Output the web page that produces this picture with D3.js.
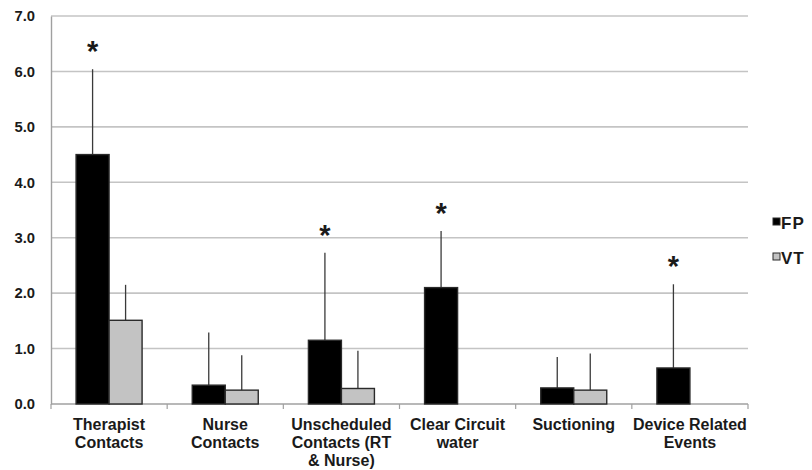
<!DOCTYPE html>
<html>
<head>
<meta charset="utf-8">
<script src="https://cdn.jsdelivr.net/npm/d3@7"></script>
<style>
  html, body { margin: 0; padding: 0; background: #fff; }
  svg { display: block; }
  text { font-family: "Liberation Sans", Arial, sans-serif; font-weight: bold; fill: #1a1a1a; }
</style>
</head>
<body>
<svg id="chart" width="812" height="470"></svg>
<script>
// ---- data ----
const categories = [
  "Therapist Contacts",
  "Nurse Contacts",
  "Unscheduled Contacts (RT & Nurse)",
  "Clear Circuit water",
  "Suctioning",
  "Device Related Events"
];
const categoryLines = [
  ["Therapist", "Contacts"],
  ["Nurse", "Contacts"],
  ["Unscheduled", "Contacts (RT", "& Nurse)"],
  ["Clear Circuit", "water"],
  ["Suctioning"],
  ["Device Related", "Events"]
];
const seriesNames = ["FP", "VT"];
const fpMean = [4.50, 0.34, 1.15, 2.10, 0.29, 0.65];
const fpSD   = [1.54, 0.95, 1.58, 1.02, 0.56, 1.51];
const vtMean = [1.51, 0.25, 0.28, null, 0.25, null];
const vtSD   = [0.64, 0.63, 0.68, null, 0.66, null];
const significant = [true, false, true, true, false, true];
const yTicks = [0, 1, 2, 3, 4, 5, 6, 7];

// ---- layout ----
const svg = d3.select("#chart");
const plotLeft = 51, plotRight = 748, plotTop = 16, plotBottom = 404;

const y = d3.scaleLinear().domain([0, 7]).range([plotBottom, plotTop]);
const x0 = d3.scaleBand().domain(categories).range([plotLeft, plotRight]).paddingInner(0).paddingOuter(0);
const x1 = d3.scaleBand().domain(seriesNames).range([0, x0.bandwidth()]).paddingInner(0).paddingOuter(0.76);
const color = d3.scaleOrdinal().domain(seriesNames).range(["#000000", "#c3c3c3"]);

// gridlines
svg.append("g").selectAll("line").data(yTicks.slice(1)).join("line")
  .attr("x1", plotLeft).attr("x2", plotRight)
  .attr("y1", d => y(d)).attr("y2", d => y(d))
  .attr("stroke", "#c4c4c4").attr("stroke-width", 1.6);

// y axis
const yAxis = svg.append("g").attr("transform", `translate(${plotLeft},0)`)
  .call(d3.axisLeft(y).tickValues(yTicks).tickFormat(d3.format(".1f")).tickSize(0).tickPadding(16));
yAxis.select(".domain").attr("stroke", "#a0a0a0").attr("stroke-width", 1.4);
yAxis.selectAll("text").style("font-size", "14.8px").attr("fill", "#1a1a1a")
  .attr("font-family", "Liberation Sans, Arial, sans-serif").attr("font-weight", "bold");

// x axis line and boundary ticks
svg.append("line").attr("x1", plotLeft).attr("x2", plotRight).attr("y1", plotBottom).attr("y2", plotBottom)
  .attr("stroke", "#a0a0a0").attr("stroke-width", 1.4);
const boundaries = categories.map(c => x0(c)).concat([x0(categories[categories.length - 1]) + x0.bandwidth()]);
svg.append("g").selectAll("line").data(boundaries).join("line")
  .attr("x1", d => d).attr("x2", d => d).attr("y1", plotBottom).attr("y2", plotBottom + 5)
  .attr("stroke", "#a0a0a0").attr("stroke-width", 1.2);

// build bar records
const records = [];
categories.forEach((c, i) => {
  records.push({ cat: c, s: "FP", v: fpMean[i], sd: fpSD[i], sig: significant[i] });
  if (vtMean[i] != null) records.push({ cat: c, s: "VT", v: vtMean[i], sd: vtSD[i], sig: false });
});

// error bars (upper only)
svg.append("g").selectAll("line").data(records).join("line")
  .attr("x1", d => x0(d.cat) + x1(d.s) + x1.bandwidth() / 2)
  .attr("x2", d => x0(d.cat) + x1(d.s) + x1.bandwidth() / 2)
  .attr("y1", d => y(d.v)).attr("y2", d => y(d.v + d.sd))
  .attr("stroke", "#3a3a3a").attr("stroke-width", 1.3);

// bars
svg.append("g").selectAll("rect").data(records).join("rect")
  .attr("x", d => x0(d.cat) + x1(d.s))
  .attr("y", d => y(d.v))
  .attr("width", x1.bandwidth())
  .attr("height", d => y(0) - y(d.v))
  .attr("fill", d => color(d.s))
  .attr("stroke", "#2a2a2a").attr("stroke-width", 1.4);

// significance asterisks
svg.append("g").selectAll("text").data(records.filter(d => d.sig)).join("text")
  .attr("x", d => x0(d.cat) + x1(d.s) + x1.bandwidth() / 2)
  .attr("y", d => y(d.v + d.sd) - 24 + 16)
  .attr("text-anchor", "middle")
  .style("font-size", "29px")
  .text("*");

// category labels
const catG = svg.append("g").selectAll("text").data(categories).join("text")
  .attr("text-anchor", "middle")
  .attr("x", d => x0(d) + x0.bandwidth() / 2)
  .attr("y", 430)
  .style("font-size", "16px");
catG.each(function(d, i) {
  const t = d3.select(this);
  categoryLines[i].forEach((ln, k) => {
    t.append("tspan").attr("x", x0(d) + x0.bandwidth() / 2).attr("y", 430 + k * 18).text(ln);
  });
});

// legend
const legend = svg.append("g").selectAll("g").data(seriesNames).join("g")
  .attr("transform", (d, i) => `translate(773, ${222 + i * 35})`);
legend.append("rect").attr("x", 0).attr("y", -4).attr("width", 7).attr("height", 7)
  .attr("fill", d => color(d)).attr("stroke", "#2a2a2a").attr("stroke-width", 1);
legend.append("text").attr("x", 8).attr("y", 6.5)
  .style("font-size", "17px").style("letter-spacing", "1px")
  .text(d => d);
</script>
</body>
</html>
